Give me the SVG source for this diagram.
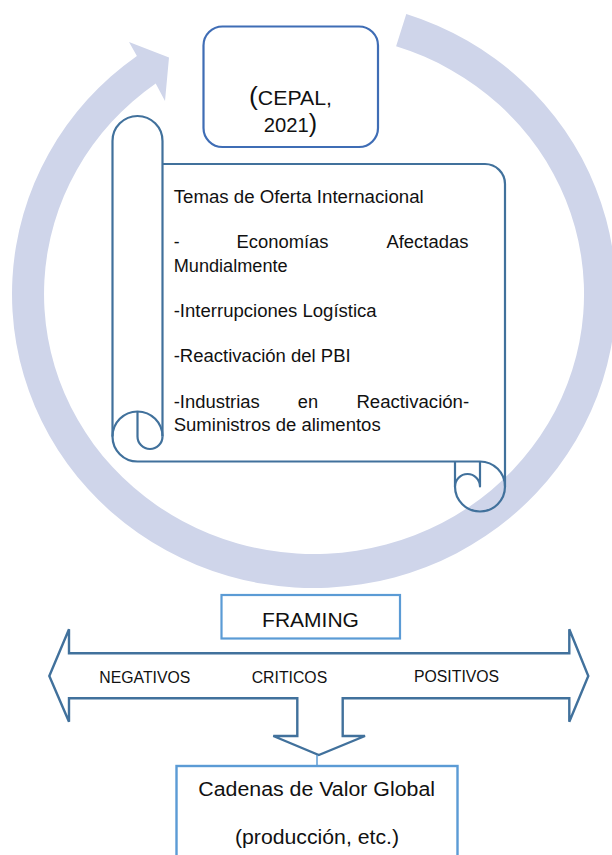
<svg xmlns="http://www.w3.org/2000/svg" width="612" height="855" viewBox="0 0 612 855">
<style>
text{font-family:"Liberation Sans",Arial,sans-serif;fill:#111}
.st{font-size:17.5px}
.lb{font-size:15.8px}
.scroll{fill:none;stroke:#41719C;stroke-width:2.2;stroke-linejoin:round}
.fillw{fill:#fff;stroke:none}
</style>
<rect width="612" height="855" fill="#fff"/>
<g id="cycle">
<path d="M406.3,14.1 A302,294 0 1 1 136.9,55.9 L129,42 L169,57.5 L165,101 L155.7,83.4 A270,260 0 1 0 396.1,46.3 Z" fill="#CFD5EA"/>
</g>
<g id="cepal">
<rect x="203.5" y="26.5" width="174.5" height="120.5" rx="19" fill="#fff" stroke="#3F6DB5" stroke-width="2.2"/>
<text x="290.5" y="105" text-anchor="middle" font-size="20" textLength="83" lengthAdjust="spacingAndGlyphs"><tspan font-size="25">(</tspan>CEPAL,</text>
<text x="290.5" y="132" text-anchor="middle" font-size="20"><tspan textLength="45" lengthAdjust="spacingAndGlyphs">2021</tspan><tspan font-size="25">)</tspan></text>
</g>
<g id="scroll">
<path class="fillw" d="M112.5,141 A25,25 0 0 1 162.5,141 V164 H485 A20,20 0 0 1 505,184 V461.5 H137.5 A25,25 0 0 1 112.5,436.5 Z"/>
<path class="scroll" d="M162.5,436.5 V141 A25,25 0 0 0 112.5,141 V436.5 A25,25 0 0 0 137.5,461.5 H480 A25,25 0 0 1 505,486.5 A25,25 0 0 1 480,511.5 A25,25 0 0 1 455,486.5 V461.5"/>
<path class="scroll" d="M505,486.5 V184 A20,20 0 0 0 485,164 H162.5"/>
<path class="scroll" d="M112.5,436.5 A25,25 0 0 1 162.5,436.5"/>
<path class="scroll" d="M137.5,411.5 V436.5 A12.5,12.5 0 0 0 162.5,436.5"/>
<path class="scroll" d="M455,486.5 A12.5,12.5 0 0 1 480,486.5 V461.5"/>
<text class="st" x="173.7" y="203" textLength="250" lengthAdjust="spacingAndGlyphs">Temas de Oferta Internacional</text>
<text class="st" x="173.7" y="248">-</text>
<text class="st" x="236.5" y="248" textLength="92" lengthAdjust="spacingAndGlyphs">Economías</text>
<text class="st" x="386.4" y="248" textLength="82" lengthAdjust="spacingAndGlyphs">Afectadas</text>
<text class="st" x="173.7" y="271.5" textLength="114" lengthAdjust="spacingAndGlyphs">Mundialmente</text>
<text class="st" x="173.7" y="316.5" textLength="203" lengthAdjust="spacingAndGlyphs">-Interrupciones Logística</text>
<text class="st" x="173.7" y="362" textLength="177" lengthAdjust="spacingAndGlyphs">-Reactivación del PBI</text>
<text class="st" x="173.7" y="408" textLength="86" lengthAdjust="spacingAndGlyphs">-Industrias</text>
<text class="st" x="297.8" y="408" textLength="20.3" lengthAdjust="spacingAndGlyphs">en</text>
<text class="st" x="356.4" y="408" textLength="112.8" lengthAdjust="spacingAndGlyphs">Reactivación-</text>
<text class="st" x="173.7" y="431" textLength="207" lengthAdjust="spacingAndGlyphs">Suministros de alimentos</text>
</g>
<g id="framing">
<rect x="221.5" y="595" width="178.5" height="43.5" fill="#fff" stroke="#5B9BD5" stroke-width="2.2"/>
<text x="310.5" y="626.5" text-anchor="middle" font-size="21">FRAMING</text>
</g>
<g id="connectors">
<path id="double-arrow" d="M69,653.3 H569.3 V629.3 L588.3,676 L569.3,721.7 V698.3 H342.7 V736 H365 L318.8,755 L273.3,736 H297.3 V698.3 H69 V721.7 L49.3,676 L69,629.3 Z" fill="#fff" stroke="#41719C" stroke-width="2.4" stroke-linejoin="miter"/>
<line x1="317" y1="755" x2="317" y2="772" stroke="#5B9BD5" stroke-width="1.5"/>
</g>
<g id="labels">
<text class="lb" x="99.3" y="682.7">NEGATIVOS</text>
<text class="lb" x="251.7" y="682.7">CRITICOS</text>
<text class="lb" x="414" y="681.7">POSITIVOS</text>
</g>
<g id="cadenas">
<rect x="176.5" y="766" width="281" height="100" fill="#fff" stroke="#5B9BD5" stroke-width="2.4"/>
<text x="198.3" y="795.5" font-size="20" textLength="236.7" lengthAdjust="spacingAndGlyphs">Cadenas de Valor Global</text>
<text x="235" y="843.5" font-size="20" textLength="164" lengthAdjust="spacingAndGlyphs">(producción, etc.)</text>
</g>
</svg>
